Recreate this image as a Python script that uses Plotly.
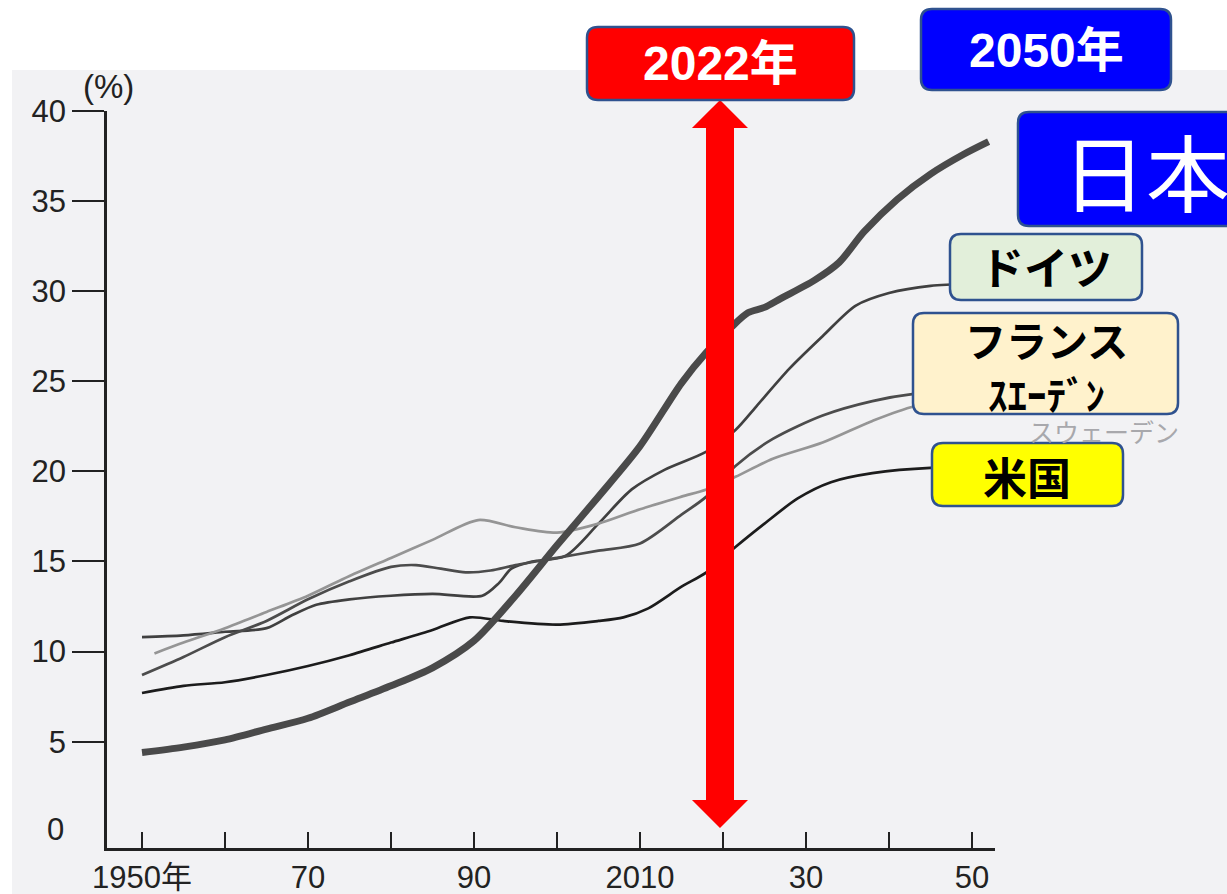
import plotly.graph_objects as go

# ---- data: share of population aged 65+ (%) ----
years_japan = [1950, 1955, 1960, 1965, 1970, 1975, 1980, 1985, 1990, 1995, 2000, 2005,
               2010, 2015, 2018, 2021, 2023, 2025, 2027, 2031, 2034, 2037, 2041, 2045,
               2049, 2052]
values_japan = [4.4, 4.7, 5.1, 5.7, 6.3, 7.2, 8.1, 9.1, 10.6, 13.1, 15.9, 18.6,
                21.4, 24.9, 26.6, 28.0, 28.8, 29.1, 29.6, 30.6, 31.6, 33.3, 35.1, 36.5,
                37.6, 38.3]

years_germany = [1950, 1955, 1960, 1965, 1968, 1971, 1975, 1980, 1985, 1991, 1993, 1994.5,
                 1997, 2001, 2005, 2009, 2013, 2018, 2021.5, 2024, 2028, 2032, 2036, 2040,
                 2045, 2050]
values_germany = [10.8, 10.9, 11.1, 11.3, 12.0, 12.6, 12.9, 13.1, 13.2, 13.1, 13.8, 14.6,
                  15.0, 15.3, 17.1, 19.0, 20.1, 21.1, 22.3, 23.6, 25.7, 27.5, 29.2, 29.9,
                  30.3, 30.4]

years_france = [1950, 1955, 1960, 1965, 1970, 1975, 1980, 1983, 1986, 1989, 1992, 1995,
                2000, 2005, 2010, 2015, 2018, 2021.5, 2026, 2032, 2038, 2043, 2050]
values_france = [8.7, 9.7, 10.8, 11.7, 12.9, 13.9, 14.7, 14.8, 14.6, 14.4, 14.5, 14.8,
                 15.2, 15.6, 16.0, 17.6, 18.6, 20.3, 21.8, 23.1, 23.9, 24.3, 24.5]

years_sweden = [1951.5, 1955, 1960, 1965, 1970, 1975, 1980, 1985, 1990.5, 1995, 2000, 2005,
                2010, 2015, 2018, 2021.5, 2026, 2032, 2038, 2043, 2050]
values_sweden = [9.9, 10.5, 11.3, 12.2, 13.1, 14.2, 15.2, 16.2, 17.3, 16.9, 16.6, 17.1,
                 17.9, 18.6, 19.0, 19.7, 20.7, 21.6, 22.8, 23.6, 24.0]

years_usa = [1950, 1955, 1960, 1965, 1970, 1975, 1980, 1985, 1989.5, 1993.5, 2000, 2005,
             2008, 2011, 2015, 2018, 2021.5, 2025, 2029, 2033, 2038, 2045, 2050]
values_usa = [7.7, 8.1, 8.3, 8.7, 9.2, 9.8, 10.5, 11.2, 11.9, 11.7, 11.5, 11.7,
              11.9, 12.4, 13.6, 14.4, 15.8, 17.1, 18.5, 19.4, 19.9, 20.2, 20.2]

x_tickvals = [1950, 1960, 1970, 1980, 1990, 2000, 2010, 2020, 2030, 2040, 2050]
x_ticktext = ["1950年", "", "70", "", "90", "", "2010", "", "30", "", "50"]
y_tickvals = [5, 10, 15, 20, 25, 30, 35, 40]
y_ticktext = ["5", "10", "15", "20", "25", "30", "35", "40"]

# ---- page geometry (pixels) ----
W, H = 1227, 894
PL, PR, PT, PB = 107, 995, 111, 848   # plot area edges


def px(x):
    return (x - PL) / (PR - PL)


def py(y):
    return (PB - y) / (PB - PT)


def rounded_box(x0, y0, x1, y1, r=10):
    pts = [
        ("M", [(x0 + r, y0)]),
        ("L", [(x1 - r, y0)]),
        ("Q", [(x1, y0), (x1, y0 + r)]),
        ("L", [(x1, y1 - r)]),
        ("Q", [(x1, y1), (x1 - r, y1)]),
        ("L", [(x0 + r, y1)]),
        ("Q", [(x0, y1), (x0, y1 - r)]),
        ("L", [(x0, y0 + r)]),
        ("Q", [(x0, y0), (x0 + r, y0)]),
    ]
    out = []
    for cmd, coords in pts:
        out.append(cmd + " ".join(f"{px(a):.5f},{py(b):.5f}" for a, b in coords))
    return " ".join(out) + " Z"


def polygon(points):
    return "M" + " L".join(f"{px(a):.5f},{py(b):.5f}" for a, b in points) + " Z"


fig = go.Figure()

series = [
    ("ドイツ", years_germany, values_germany, "#404040", 2.7),
    ("フランス", years_france, values_france, "#4c4c4c", 2.7),
    ("スウェーデン", years_sweden, values_sweden, "#959595", 2.7),
    ("米国", years_usa, values_usa, "#1c1c1c", 2.7),
    ("日本", years_japan, values_japan, "#4a4a4a", 7),
]
for name, xs, ys, color, width in series:
    fig.add_trace(go.Scatter(
        x=xs, y=ys, mode="lines", name=name,
        line=dict(color=color, width=width, shape="spline", smoothing=0.8),
        hoverinfo="x+y+name", showlegend=False,
    ))

shapes = []
# scanned paper background
shapes.append(dict(type="rect", xref="paper", yref="paper",
                   x0=px(12), x1=px(W + 5), y0=py(70), y1=py(H + 5),
                   fillcolor="#f2f2f4", line=dict(width=0), layer="below"))

# double-headed red arrow at 2022
ax = 720
shapes.append(dict(type="path", xref="paper", yref="paper", layer="above",
                   path=polygon([(ax, 100), (ax + 28, 128), (ax + 14, 128), (ax + 14, 800),
                                 (ax + 28, 800), (ax, 828), (ax - 28, 800), (ax - 14, 800),
                                 (ax - 14, 128), (ax - 28, 128)]),
                   fillcolor="#ff0000", line=dict(width=0)))

BORDER = "#2f528f"
boxes = [
    (587, 27, 854, 100, "#ff0000"),     # 2022年
    (921, 9, 1171, 90, "#0000ff"),      # 2050年
    (1018, 112, 1245, 226, "#0000ff"),  # 日本
    (950, 234, 1142, 300, "#e2efda"),   # ドイツ
    (913, 313, 1178, 414, "#fff2cc"),   # フランス / スウェーデン
    (932, 443, 1123, 506, "#ffff00"),   # 米国
]
for x0, y0, x1, y1, fill in boxes:
    shapes.append(dict(type="path", xref="paper", yref="paper", layer="above",
                       path=rounded_box(x0, y0, x1, y1, 11),
                       fillcolor=fill, line=dict(color=BORDER, width=2.5)))

LAT = "Liberation Sans, Noto Sans CJK JP, sans-serif"
JP = "Noto Sans CJK JP, sans-serif"

annotations = []


def label(text, x, y, size, color, family=JP, xanchor="center"):
    annotations.append(dict(text=text, x=px(x), y=py(y), xref="paper", yref="paper",
                            xanchor=xanchor, yanchor="middle", showarrow=False,
                            font=dict(family=family, size=size, color=color)))


label("スウェーデン", 1104, 431, 25, "#a8a8ac")
label("<b>2022年</b>", 720, 64, 48, "white", LAT)
label("<b>2050年</b>", 1046, 50, 48, "white", LAT)
label("日本", 1146, 170, 84, "white", JP)
label("<b>ドイツ</b>", 1046, 266, 44, "black")
label("<b>フランス</b>", 1046, 339, 41, "black")
label("<b>ｽｴｰﾃﾞﾝ</b>", 1046, 393, 39, "black")
label("<b>米国</b>", 1027, 476, 44, "black")
label("(%)", 108, 86, 33, "#222222", LAT)
label("0", 66, 829, 31, "#222222", LAT, xanchor="right")

fig.update_layout(
    width=W, height=H,
    margin=dict(l=PL, r=W - PR, t=PT, b=H - PB, pad=0, autoexpand=False),
    paper_bgcolor="white", plot_bgcolor="rgba(0,0,0,0)",
    shapes=shapes, annotations=annotations,
    font=dict(family=LAT, color="#222222"),
)
fig.update_xaxes(
    range=[1950 - (142 - PL) / 8.3, 2050 + (PR - 972) / 8.3],
    tickvals=x_tickvals, ticktext=x_ticktext,
    ticks="inside", ticklen=16, tickwidth=2, tickcolor="#222222",
    showline=True, linecolor="#222222", linewidth=2.5,
    showgrid=False, zeroline=False, automargin=False,
    tickfont=dict(size=31, family=LAT, color="#222222"),
    ticklabelstandoff=0,
)
fig.update_yaxes(
    range=[-0.9, 40],
    tickvals=y_tickvals, ticktext=y_ticktext,
    ticks="outside", ticklen=32, tickwidth=2, tickcolor="#222222",
    showline=True, linecolor="#222222", linewidth=2.5,
    showgrid=False, zeroline=False, automargin=False,
    tickfont=dict(size=31, family=LAT, color="#222222"),
    ticklabelstandoff=0,
)

fig.write_html("out.html")
